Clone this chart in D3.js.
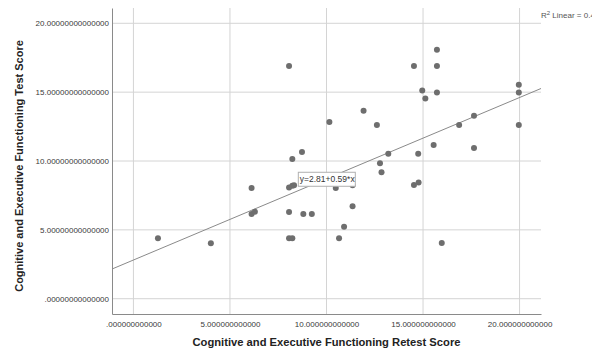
<!DOCTYPE html>
<html>
<head>
<meta charset="utf-8">
<script src="https://cdn.jsdelivr.net/npm/d3@7"></script>
<style>
  body { margin: 0; background: #fff; }
  svg { display: block; font-family: "Liberation Sans", Arial, sans-serif; }
</style>
</head>
<body>
<svg id="chart" width="592" height="351"></svg>
<script>
// retest score (x) and test score (y)
const retest = [1.27, 4.01, 6.12, 6.12, 6.29, 8.06, 8.23, 8.32, 8.23, 8.73,
  8.06, 8.80, 9.24, 8.06, 8.23, 8.06, 10.48, 11.35, 11.35, 10.91,
  10.65, 10.15, 11.92, 12.61, 14.53, 15.72, 15.72, 14.96, 15.12, 15.72,
  19.96, 19.96, 19.96, 16.87, 17.64, 15.55, 17.64, 12.77, 12.85, 13.20,
  14.75, 14.53, 14.77, 15.97];
const test = [4.39, 4.03, 8.04, 6.16, 6.32, 8.07, 8.21, 8.24, 10.15, 10.66,
  6.30, 6.16, 6.16, 4.39, 4.39, 16.89, 8.04, 8.24, 6.72, 5.23,
  4.39, 12.84, 13.64, 12.62, 16.89, 18.07, 16.89, 15.12, 14.53, 14.97,
  15.53, 14.97, 12.62, 12.62, 13.28, 11.17, 10.95, 9.84, 9.19, 10.52,
  10.52, 8.26, 8.43, 4.05];
const xTicks = [0, 5, 10, 15, 20];
const yTicks = [0, 5, 10, 15, 20];
const fit = { a: 2.81, b: 0.59 };

const svg = d3.select("#chart");
const margin = { top: 8, right: 51, bottom: 37, left: 112 };
const width = +svg.attr("width") - margin.left - margin.right;
const height = +svg.attr("height") - margin.top - margin.bottom;

const x = d3.scaleLinear().domain([-1.11, 21.11]).range([0, width]);
const y = d3.scaleLinear().domain([-1.11, 21.11]).range([height, 0]);

const fmtX = d => (d === 0 ? "" : d) + "." + "0".repeat(12);
const fmtY = d => (d === 0 ? "" : d) + "." + "0".repeat(14);

const g = svg.append("g")
    .attr("transform", `translate(${margin.left},${margin.top})`);

svg.append("defs").append("clipPath").attr("id", "plot")
  .append("rect").attr("width", width).attr("height", height);

// grid
g.selectAll(".vgrid").data(xTicks).enter().append("line")
    .attr("x1", d => x(d)).attr("x2", d => x(d))
    .attr("y1", 0).attr("y2", height)
    .attr("stroke", "#d4d4d4");
g.selectAll(".hgrid").data(yTicks).enter().append("line")
    .attr("x1", 0).attr("x2", width)
    .attr("y1", d => y(d)).attr("y2", d => y(d))
    .attr("stroke", "#d4d4d4");

// axes
const xAxis = g.append("g")
    .attr("transform", `translate(0,${height})`)
    .call(d3.axisBottom(x).tickValues(xTicks).tickFormat(fmtX).tickSize(0).tickPadding(7));
const yAxis = g.append("g")
    .call(d3.axisLeft(y).tickValues(yTicks).tickFormat(fmtY).tickSize(0).tickPadding(3));
[xAxis, yAxis].forEach(a => {
  a.select(".domain").attr("stroke", "#8a8a8a");
  a.selectAll("text").attr("font-size", 8).attr("fill", "#3a3a3a")
    .attr("font-family", "Liberation Sans, Arial, sans-serif");
});

// fit line
g.append("line")
    .attr("clip-path", "url(#plot)")
    .attr("x1", x(-1.11)).attr("y1", y(fit.a + fit.b * -1.11))
    .attr("x2", x(21.11)).attr("y2", y(fit.a + fit.b * 21.11))
    .attr("stroke", "#8a8a8a");

// points
g.selectAll(".dot").data(retest).enter().append("circle")
    .attr("cx", d => x(d))
    .attr("cy", (d, i) => y(test[i]))
    .attr("r", 3)
    .attr("fill", "#6e6e6e");

// equation label
const lx = 8.54, ly = 8.31;
const lab = g.append("g").attr("transform", `translate(${x(lx)},${y(ly)})`);
lab.append("rect").attr("x", 0).attr("y", -12).attr("width", 57).attr("height", 14)
    .attr("fill", "#fff").attr("stroke", "#b0b0b0");
lab.append("text").attr("x", 1.5).attr("y", -2).attr("font-size", 8.5).attr("fill", "#333")
    .text(`y=${fit.a}+${fit.b}*x`);

// R2 label
svg.append("text").attr("x", margin.left + width).attr("y", 18)
    .attr("font-size", 8).attr("fill", "#555")
    .html('R<tspan dy="-3" font-size="6">2</tspan><tspan dy="3"> Linear = 0.425</tspan>');

// titles
svg.append("text")
    .attr("x", 326.5).attr("y", 346)
    .attr("text-anchor", "middle").attr("font-weight", "bold").attr("font-size", 11.2).attr("fill", "#222")
    .text("Cognitive and Executive Functioning Retest Score");
svg.append("text")
    .attr("transform", `translate(23,166) rotate(-90)`)
    .attr("text-anchor", "middle").attr("font-weight", "bold").attr("font-size", 11).attr("fill", "#222")
    .text("Cognitive and Executive Functioning Test Score");
</script>
</body>
</html>
